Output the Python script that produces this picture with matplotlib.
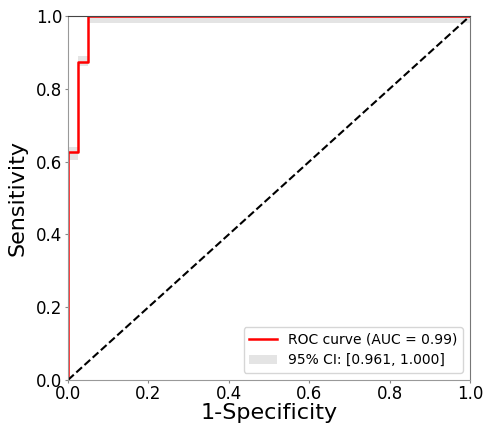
import matplotlib
matplotlib.use("Agg")
import matplotlib.pyplot as plt
import numpy as np

# ROC step points
fpr = [0.0, 0.0, 0.025, 0.025, 0.05, 0.05, 1.0]
tpr = [0.0, 0.625, 0.625, 0.875, 0.875, 1.0, 1.0]

# confidence band (step, post)
ci_x = [0.0, 0.025, 0.05, 1.0]
ci_low = [0.605, 0.862, 0.982, 0.982]
ci_high = [0.64, 0.89, 1.0, 1.0]

auc = 0.99
ci_text = "95% CI: [0.961, 1.000]"

fig = plt.figure(figsize=(4.83, 4.23), dpi=100)
ax = fig.add_axes([0.141, 0.102, 0.832, 0.86])

ax.fill_between(ci_x, ci_low, ci_high, step="post", color="#d9d9d9", alpha=0.7,
                linewidth=0, label=ci_text)
ax.plot(fpr, tpr, color="red", lw=1.8, label="ROC curve (AUC = %.2f)" % auc)
ax.plot([0, 1], [0, 1], color="black", lw=1.5, ls="--")

ax.set_xlim(0, 1)
ax.set_ylim(0, 1)
ax.set_xticks(np.arange(0, 1.01, 0.2))
ax.set_yticks(np.arange(0, 1.01, 0.2))
ax.tick_params(labelsize=12, length=2, pad=2, color="#888888")
ax.set_xlabel("1-Specificity", fontsize=16, labelpad=0)
ax.set_ylabel("Sensitivity", fontsize=16, labelpad=6)

# spines look grey in the original
ax.spines["left"].set_color("#999999")
ax.spines["bottom"].set_color("#999999")
ax.spines["top"].set_color("#444444")
ax.spines["right"].set_color("#777777")

handles, labels = ax.get_legend_handles_labels()
ax.legend(handles[::-1], labels[::-1], loc="lower right", fontsize=10)

fig.savefig("out.png", dpi=100)
